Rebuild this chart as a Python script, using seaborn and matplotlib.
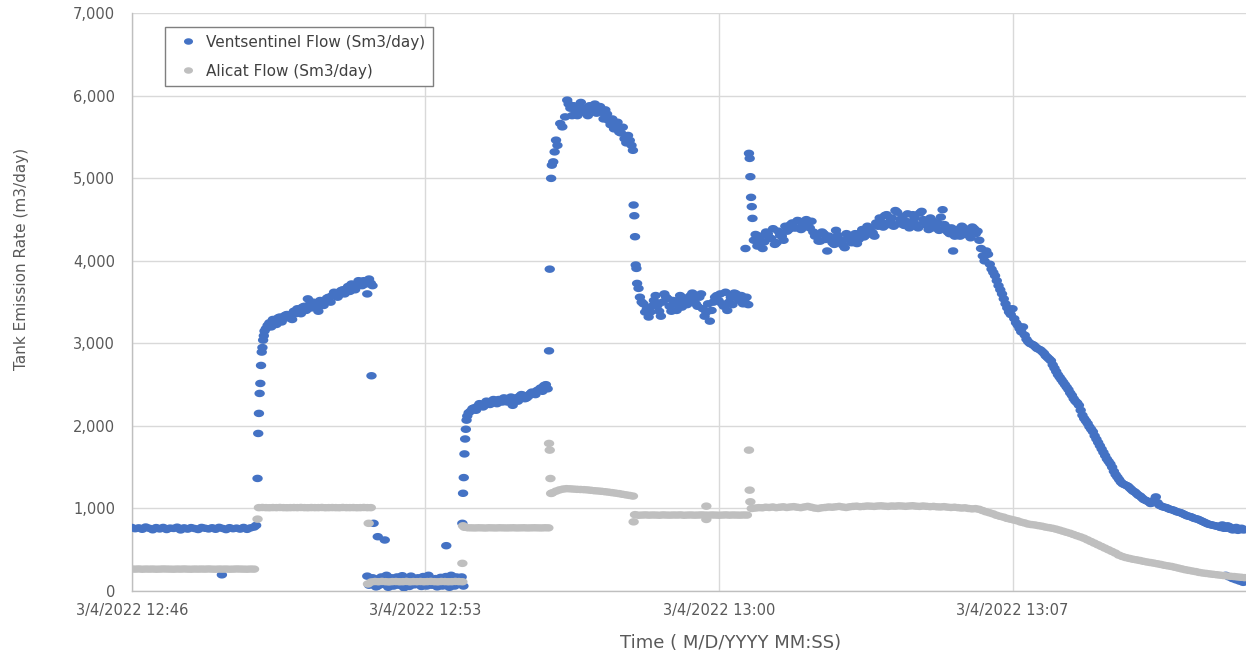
import numpy as np
import pandas as pd
import matplotlib
matplotlib.use("Agg")
import matplotlib.pyplot as plt
from matplotlib.path import Path
from matplotlib.lines import Line2D
from matplotlib.ticker import FixedLocator, MultipleLocator, FuncFormatter
import seaborn as sns

# ---------------------------------------------------------------------------
# Time axis: seconds after 3/4/2022 12:46:00
# ---------------------------------------------------------------------------
X_TICK_SECONDS = [0, 420, 840, 1260]
X_TICK_LABELS = ["3/4/2022 12:46", "3/4/2022 12:53", "3/4/2022 13:00", "3/4/2022 13:07"]
X_MINOR_STEP = 84
X_RANGE = (0, 1594)
Y_TICKS = [0, 1000, 2000, 3000, 4000, 5000, 6000, 7000]

SERIES = ["Ventsentinel Flow (Sm3/day)", "Alicat Flow (Sm3/day)"]
COLORS = ["#4472C4", "#BFBFBF"]

# ---------------------------------------------------------------------------
# Ventsentinel flow (Sm3/day)
# logged blocks: (first sample second, sample step in s, values);
# the "_b" blocks are the readings logged in between
# ---------------------------------------------------------------------------
vent_baseline = [770, 755, 765, 748, 775, 760, 742, 768, 752, 770,
                 745, 762, 758, 773, 740, 765, 750, 768, 757, 745,
                 770, 760, 752, 766, 748, 771, 758, 744, 767, 755,
                 762, 750, 770, 747, 765, 775]
vent_plateau1 = [3180, 3250, 3290, 3230, 3320, 3300, 3350, 3330, 3390, 3420,
                 3360, 3450, 3540, 3430, 3480, 3390, 3500, 3520, 3560, 3580,
                 3610, 3590, 3650, 3660, 3630, 3700, 3690, 3740, 3760, 3600,
                 3730]
vent_plateau1_b = [3220, 3200, 3270, 3310, 3260, 3340, 3310, 3290, 3360, 3380,
                   3440, 3400, 3470, 3500, 3440, 3520, 3460, 3550, 3500, 3620,
                   3560, 3640, 3600, 3690, 3720, 3650, 3760, 3700, 3720, 3780,
                   3700]
vent_low = [180, 90, 150, 60, 170, 110, 45, 160, 130, 70,
            185, 100, 55, 150, 120, 80, 175, 60, 140, 100,
            50, 165, 120, 80, 190, 60, 150, 170]
vent_low_b = [70, 160, 50, 130, 80, 190, 120, 60, 170, 140,
              40, 110, 180, 75, 160, 55, 120, 190, 70, 150,
              130, 60, 175, 45, 110, 170, 85, 60]
vent_plateau2 = [2180, 2220, 2240, 2260, 2250, 2290, 2280, 2300, 2320, 2290,
                 2330, 2310, 2250, 2340, 2360, 2370, 2340, 2390, 2400, 2430,
                 2460, 2490, 2450]
vent_plateau2_b = [2210, 2190, 2270, 2230, 2300, 2260, 2320, 2270, 2300, 2340,
                   2290, 2350, 2320, 2300, 2380, 2330, 2360, 2410, 2380, 2440,
                   2420, 2500]
vent_peak = [5900, 5760, 5820, 5790, 5850, 5800, 5880, 5830, 5790, 5870,
             5720, 5780, 5650, 5600, 5680, 5550, 5480, 5520, 5400]
vent_peak_b = [5850, 5880, 5760, 5920, 5810, 5760, 5840, 5900, 5850, 5800,
               5830, 5700, 5720, 5620, 5560, 5620, 5430, 5460]
vent_plateau3 = [3560, 3480, 3420, 3380, 3520, 3460, 3330, 3600, 3540, 3390,
                 3480, 3520, 3440, 3550, 3500, 3610, 3480, 3560, 3420, 3380,
                 3270, 3500, 3580, 3600, 3450, 3400, 3560, 3610, 3540, 3580,
                 3500, 3470]
vent_plateau3_b = [3500, 3380, 3320, 3450, 3580, 3390, 3500, 3560, 3450, 3520,
                   3400, 3580, 3500, 3470, 3580, 3540, 3450, 3600, 3330, 3480,
                   3400, 3560, 3520, 3480, 3620, 3500, 3470, 3600, 3520, 3480,
                   3560]
vent_plateau4 = [4250, 4180, 4300, 4230, 4330, 4270, 4200, 4360, 4300, 4420,
                 4380, 4460, 4400, 4480, 4430, 4500, 4400, 4350, 4300, 4240,
                 4330, 4120, 4280, 4200, 4310, 4240, 4160, 4290, 4220, 4330,
                 4260, 4380, 4310, 4400, 4340, 4460, 4520, 4410, 4560, 4480,
                 4420, 4590, 4500, 4430, 4570, 4470, 4520, 4400, 4600, 4460,
                 4380, 4490, 4430, 4370, 4620, 4410, 4330, 4120, 4380, 4300,
                 4400, 4340, 4280, 4390, 4360]
vent_plateau4_b = [4320, 4260, 4150, 4350, 4280, 4390, 4220, 4310, 4250, 4360,
                   4440, 4400, 4490, 4380, 4460, 4420, 4480, 4300, 4240, 4350,
                   4260, 4300, 4220, 4370, 4260, 4190, 4330, 4250, 4300, 4210,
                   4340, 4290, 4420, 4360, 4300, 4420, 4470, 4550, 4440, 4520,
                   4610, 4450, 4540, 4480, 4400, 4560, 4440, 4580, 4500, 4430,
                   4520, 4400, 4460, 4530, 4440, 4350, 4400, 4300, 4360, 4420,
                   4320, 4380, 4410, 4330, 4250]
vent_decline = [4150, 4000, 4080, 3900, 3820, 3700, 3600, 3480, 3380, 3420,
                3250, 3180, 3200, 3050, 3000, 2980, 2940, 2920, 2880, 2830,
                2790, 2700, 2620, 2560, 2500, 2440, 2370, 2300, 2250, 2130,
                2060, 1990, 1930, 1840, 1760, 1680, 1600, 1540, 1450, 1380,
                1320, 1290, 1270, 1230, 1200, 1160, 1130, 1100, 1080, 1070,
                1140, 1040, 1020, 1010, 990, 980, 960, 950, 930, 910,
                900, 880, 870, 850, 830, 810, 800, 790, 780, 800,
                760, 780, 740, 770, 750, 740]
vent_decline_b = [4060, 4120, 3960, 3860, 3760, 3650, 3540, 3430, 3350, 3300,
                  3220, 3140, 3100, 3020, 2990, 2960, 2930, 2900, 2850, 2810,
                  2740, 2660, 2590, 2530, 2470, 2400, 2330, 2280, 2190, 2090,
                  2030, 1960, 1880, 1800, 1720, 1640, 1570, 1500, 1410, 1350,
                  1300, 1280, 1250, 1210, 1180, 1150, 1110, 1090, 1060, 1100,
                  1070, 1030, 1015, 1000, 985, 970, 955, 940, 920, 905,
                  890, 875, 860, 840, 820, 805, 795, 785, 770, 760,
                  790, 750, 760, 735, 760, 745]
vent_tail = [190, 170, 150, 135, 120, 105]

# individual samples during the fast transitions (second, value)
vent_jump_t = [129, 178, 180, 181, 182, 183, 184, 185, 186, 187, 188, 189, 190,
               343, 346, 352, 362, 450,
               473, 474, 475, 476, 477, 478, 479, 480, 482,
               597, 598, 600, 601, 603, 605, 607, 609, 613, 616, 620, 623,
               717, 718, 719, 720, 721, 722, 723, 725,
               878, 883, 884, 885, 886, 887, 888]
vent_jump_v = [196, 795, 1364, 1909, 2152, 2394, 2515, 2733, 2895, 2950, 3040, 3093, 3150,
               2608, 820, 658, 618, 549,
               820, 1184, 1374, 1661, 1842, 1960, 2070, 2120, 2160,
               2910, 3900, 5000, 5160, 5200, 5321, 5463, 5400, 5665, 5624, 5745, 5948,
               5340, 4677, 4547, 4293, 3950, 3909, 3727, 3667,
               4150, 5303, 5242, 5020, 4770, 4657, 4515]

# ---------------------------------------------------------------------------
# Alicat flow (Sm3/day)
# ---------------------------------------------------------------------------
alicat_seg1 = [266, 265, 267, 264, 266, 265, 266, 264, 265, 267,
               266, 265, 264, 266, 265, 267, 265, 264, 266, 265,
               266, 265, 267, 265, 264, 266, 265, 266, 264, 265,
               267, 266, 265, 264, 266, 265]
alicat_seg2 = [1010, 1012, 1010, 1009, 1011, 1010, 1012, 1010, 1009, 1010,
               1011, 1010, 1012, 1010, 1009, 1011, 1010, 1010, 1012, 1009,
               1010, 1011, 1010, 1009, 1012, 1010, 1010, 1011, 1009, 1010,
               1012, 1010, 1010]
alicat_low = [85, 110, 115, 112, 116, 113, 110, 114, 115, 112,
              113, 116, 111, 114, 113, 115, 112, 114, 116, 113,
              111, 115, 114, 112, 113, 116, 114, 112]
alicat_seg3 = [772, 766, 765, 764, 766, 765, 763, 766, 765, 764,
               766, 765, 764, 765, 766, 764, 765, 766, 764, 765,
               766, 765, 764, 766, 765]
alicat_peak = [1190, 1210, 1225, 1235, 1240, 1238, 1235, 1232, 1230, 1228,
               1225, 1220, 1215, 1212, 1208, 1203, 1198, 1192, 1186, 1180,
               1172, 1165, 1158, 1150]
alicat_seg4 = [925, 918, 920, 922, 919, 921, 920, 918, 922, 920,
               919, 921, 920, 922, 918, 920, 921, 919, 920, 922,
               920, 919, 921, 920, 918, 920, 922, 919, 921, 920,
               919, 921, 920]
alicat_seg5 = [1000, 1005, 1010, 1008, 1015, 1012, 1018, 1010, 1015, 1020,
               1012, 1018, 1022, 1015, 1010, 1018, 1025, 1015, 1005, 1000,
               1008, 1012, 1018, 1015, 1020, 1025, 1018, 1012, 1020, 1025,
               1028, 1022, 1025, 1030, 1028, 1025, 1030, 1032, 1028, 1025,
               1030, 1028, 1032, 1030, 1026, 1030, 1033, 1028, 1025, 1030,
               1026, 1022, 1025, 1020, 1018, 1022, 1016, 1012, 1015, 1010,
               1005, 1008, 1000, 995, 998, 990, 975, 960, 948, 935,
               918, 905, 895, 880, 870, 860, 850, 835, 825, 812,
               805, 800, 792, 785, 775, 768, 760, 750, 738, 725,
               712, 700, 685, 670, 656, 640, 620, 600, 580, 560,
               540, 520, 500, 480, 460, 435, 418, 405, 395, 385,
               378, 370, 360, 352, 345, 338, 330, 322, 312, 305,
               298, 288, 278, 268, 258, 250, 242, 235, 225, 218,
               213, 207, 202, 197, 192, 187, 182, 178, 175, 170,
               166, 162]

alicat_jump_t = [180, 339, 473, 474, 597, 598, 599, 600, 718, 822, 822, 883, 884, 885]
alicat_jump_v = [871, 820, 335, 790, 1788, 1707, 1363, 1182, 838, 1028, 867, 1707, 1222, 1081]

VENT_BLOCKS = [(0, 5, vent_baseline),
               (192, 5, vent_plateau1), (194.5, 5, vent_plateau1_b),
               (337, 5, vent_low), (339.5, 5, vent_low_b),
               (485, 5, vent_plateau2), (487.5, 5, vent_plateau2_b),
               (625, 5, vent_peak), (627.5, 5, vent_peak_b),
               (727, 5, vent_plateau3), (729.5, 5, vent_plateau3_b),
               (890, 5, vent_plateau4), (892.5, 5, vent_plateau4_b),
               (1215, 5, vent_decline), (1217.5, 5, vent_decline_b),
               (1565, 5, vent_tail)]
ALICAT_BLOCKS = [(0, 5, alicat_seg1), (182, 5, alicat_seg2), (338, 5, alicat_low),
                 (476, 5, alicat_seg3), (602, 5, alicat_peak), (720, 5, alicat_seg4),
                 (887, 5, alicat_seg5)]


def series_frame(name, blocks, jump_t, jump_v):
    parts = []
    for start, step, values in blocks:
        secs = start + step * np.arange(len(values))
        parts.append(pd.DataFrame({"seconds": secs, "flow": values}))
    parts.append(pd.DataFrame({"seconds": jump_t, "flow": jump_v}))
    out = pd.concat(parts, ignore_index=True).sort_values("seconds", kind="stable")
    out["series"] = name
    return out


df = pd.concat([series_frame(SERIES[0], VENT_BLOCKS, vent_jump_t, vent_jump_v),
                series_frame(SERIES[1], ALICAT_BLOCKS, alicat_jump_t, alicat_jump_v)],
               ignore_index=True)

# ---------------------------------------------------------------------------
# Figure
# ---------------------------------------------------------------------------
sns.set_style("white")
plt.rcParams["font.family"] = ["DejaVu Sans"]

# slightly flattened dot used for the scatter markers
theta = np.linspace(0, 2 * np.pi, 41)
ELLIPSE = Path(np.column_stack([np.cos(theta), 0.72 * np.sin(theta)]))

fig = plt.figure(figsize=(12.46, 6.56), dpi=100)
ax = fig.add_axes([0.1057, 0.0991, 0.8943, 0.8806])

sns.scatterplot(data=df, x="seconds", y="flow", hue="series", hue_order=SERIES,
                palette=dict(zip(SERIES, COLORS)), marker=ELLIPSE, s=56,
                linewidth=0, legend=False, ax=ax, zorder=3)

ax.set_xlim(*X_RANGE)
ax.set_ylim(Y_TICKS[0], Y_TICKS[-1])
ax.xaxis.set_major_locator(FixedLocator(X_TICK_SECONDS))
ax.set_xticklabels(X_TICK_LABELS)
ax.xaxis.set_minor_locator(MultipleLocator(X_MINOR_STEP))
ax.yaxis.set_major_locator(FixedLocator(Y_TICKS))
ax.yaxis.set_major_formatter(FuncFormatter(lambda v, p: f"{v:,.0f}"))

tick_color = "#595959"
ax.tick_params(axis="x", which="both", direction="out", length=5, width=1,
               color="#BFBFBF", labelsize=10.5, labelcolor=tick_color, pad=4)
ax.tick_params(axis="y", length=0, labelsize=10.5, labelcolor=tick_color, pad=12)

ax.grid(True, which="major", color="#D9D9D9", linewidth=1.0, zorder=0)
ax.set_axisbelow(True)
for side in ("top", "right"):
    ax.spines[side].set_visible(False)
for side in ("left", "bottom"):
    ax.spines[side].set_color("#BFBFBF")
    ax.spines[side].set_linewidth(1.0)

ax.set_xlabel("Time ( M/D/YYYY MM:SS)", fontsize=13, color=tick_color)
ax.set_ylabel("Tank Emission Rate (m3/day)", fontsize=11, color=tick_color)
ax.xaxis.set_label_coords(0.537, -0.0744)
ax.yaxis.set_label_coords(-0.092, 0.574)

handles = [Line2D([], [], linestyle="none", marker=ELLIPSE, markersize=6.5,
                  markerfacecolor=c, markeredgewidth=0) for c in COLORS]
leg = ax.legend(handles, SERIES, loc="upper left", bbox_to_anchor=(0.030, 0.976),
                borderaxespad=0, frameon=True, fancybox=False, edgecolor="#7F7F7F",
                fontsize=11, handlelength=2.0, handletextpad=0.2, borderpad=0.5,
                labelspacing=0.9, framealpha=1)
leg.get_frame().set_linewidth(1.0)
for txt in leg.get_texts():
    txt.set_color("#404040")

fig.savefig("out.png", dpi=100)
